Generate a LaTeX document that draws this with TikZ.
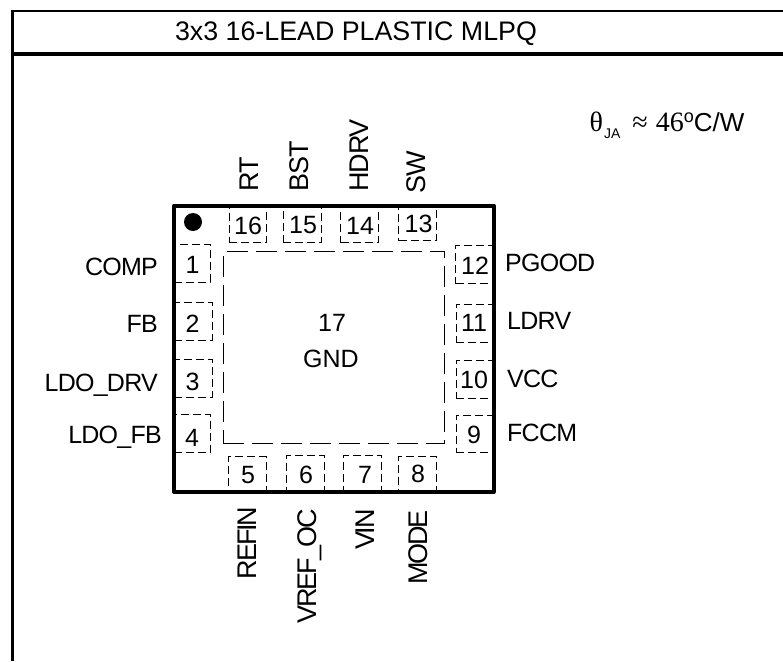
\documentclass[tikz,border=0pt]{standalone}
\usepackage{fontspec}
\setmainfont{Liberation Sans}
\newfontfamily\timesf{Liberation Serif}
\newfontfamily\arialf{Liberation Sans}
\newfontfamily\sidef[LetterSpace=-3]{Liberation Sans}
\newfontfamily\topf[LetterSpace=-4]{Liberation Sans}
\newfontfamily\botf[LetterSpace=-8]{Liberation Sans}
\tikzset{
  frameline/.style={line width=2.6pt,black},
  pkg/.style={line width=4pt,black,line join=round},
  pad/.style={draw=black,line width=1pt,dash pattern=on 8pt off 4pt,rectangle,inner sep=0pt},
  epad/.style={draw=black,line width=1pt,dash pattern=on 21pt off 8pt,rectangle,inner sep=0pt},
  lbl/.style={inner sep=0pt,font=\fontsize{25}{30}\selectfont,text=black},
  sidelbl/.style={inner sep=0pt,font=\sidef\fontsize{25}{30}\selectfont,text=black},
  toplbl/.style={inner sep=0pt,rotate=90,anchor=base west,font=\topf\fontsize{27}{30}\selectfont,text=black},
  botlbl/.style={inner sep=0pt,rotate=90,anchor=base east,font=\botf\fontsize{27}{30}\selectfont,text=black},
}
% name, x1, y1, x2, y2, text, text x, text y
\newcommand{\padnode}[8]{%
  \node[pad,minimum width={(#4-#2)*1pt},minimum height={(#5-#3)*1pt}] (#1) at ({(#2+#4)/2},{(#3+#5)/2}) {};
  \node[lbl] (#1t) at (#7,#8) {#6};}
\begin{document}
\begin{tikzpicture}[x=1pt,y=-1pt]
\useasboundingbox (0,0) rectangle (783,661);
\fill[white] (0,0) rectangle (783,661);
% frame
\coordinate (ftl) at (12.5,11);
\coordinate (ftr) at (783,11);
\coordinate (fbl) at (12.5,661);
\coordinate (hl) at (12.5,54);
\coordinate (hr) at (783,54);
\draw[frameline] (fbl) -- (ftl) -- (ftr);
\draw[line width=3pt] (hl) -- (hr);
\node[lbl,anchor=base,font=\fontsize{26.8}{30}\selectfont] (title) at (356,40.5) {3x3 16-LEAD PLASTIC MLPQ};
% thermal
\node[lbl,anchor=base west,font=\fontsize{28}{32}\selectfont] (theta) at (589.5,131.5) {\timesf θ\raisebox{-6.5pt}{\arialf\fontsize{14}{16}\selectfont\hspace{1pt}JA}\hspace{12pt}≈\hspace{8pt}46\raisebox{9pt}{\arialf\fontsize{18}{20}\selectfont o}\arialf\fontsize{26}{30}\selectfont C/W};
% exposed pad
\node[epad,minimum width=221pt,minimum height=191.6pt] (ep) at (333.5,347.5) {};
\node[lbl] (n17) at (332,323) {17};
\node[lbl] (gnd) at (331,359) {GND};
% pads
\padnode{p1}{174}{244.3}{210}{282}{1}{192.5}{265}
\padnode{p2}{174}{302}{212}{340}{2}{192.5}{323.5}
\padnode{p3}{174}{359}{212}{397}{3}{192.5}{381.5}
\padnode{p4}{174}{414.3}{210.5}{452}{4}{192}{438}
\padnode{p5}{228.3}{456.7}{266}{492}{5}{248}{475.5}
\padnode{p6}{286.3}{455}{324}{492}{6}{306}{475}
\padnode{p7}{343.7}{455}{381.7}{492}{7}{365}{475}
\padnode{p8}{398.3}{456}{436}{492}{8}{418}{474}
\padnode{p9}{456}{415}{493}{452.3}{9}{474}{434.5}
\padnode{p10}{456}{360}{493}{398}{10}{474}{379.5}
\padnode{p11}{456}{304}{493}{342}{11}{474}{323}
\padnode{p12}{455.7}{245.7}{493}{283.7}{12}{475}{266}
\padnode{p13}{398.7}{205}{436.3}{240.7}{13}{418.5}{224}
\padnode{p14}{340.7}{205}{378.3}{242.5}{14}{360}{225.5}
\padnode{p15}{283}{205}{321.5}{242.5}{15}{303}{225.5}
\padnode{p16}{229}{205}{266.3}{242.5}{16}{248}{225.5}
% package body
\draw[pkg] (174,205.5) rectangle (493.5,492);
\fill[black] (193,222) circle (9pt);
% left labels
\node[sidelbl,anchor=base east] (lcomp) at (158,275) {COMP};
\node[sidelbl,anchor=base east] (lfb) at (158,332) {FB};
\node[sidelbl,anchor=base east] (lldod) at (158,391) {LDO\_DRV};
\node[sidelbl,anchor=base east] (lldof) at (162,443.5) {LDO\_FB};
% right labels
\node[sidelbl,anchor=base west] (lpg) at (505,271) {PGOOD};
\node[sidelbl,anchor=base west] (lld) at (507,329) {LDRV};
\node[sidelbl,anchor=base west] (lvcc) at (507,387) {VCC};
\node[sidelbl,anchor=base west] (lfccm) at (507,441) {FCCM};
% top labels
\node[toplbl] (lrt) at (258,192) {RT};
\node[toplbl] (lbst) at (308.5,192) {BST};
\node[toplbl] (lhdrv) at (368,192) {HDRV};
\node[toplbl] (lsw) at (425,194) {SW};
% bottom labels
\node[botlbl] (lrefin) at (256,506.5) {REFIN};
\node[botlbl] (lvref) at (316,509) {VREF\_OC};
\node[botlbl] (lvin) at (374,509) {VIN};
\node[botlbl] (lmode) at (427.5,510) {MODE};
\end{tikzpicture}
\end{document}
